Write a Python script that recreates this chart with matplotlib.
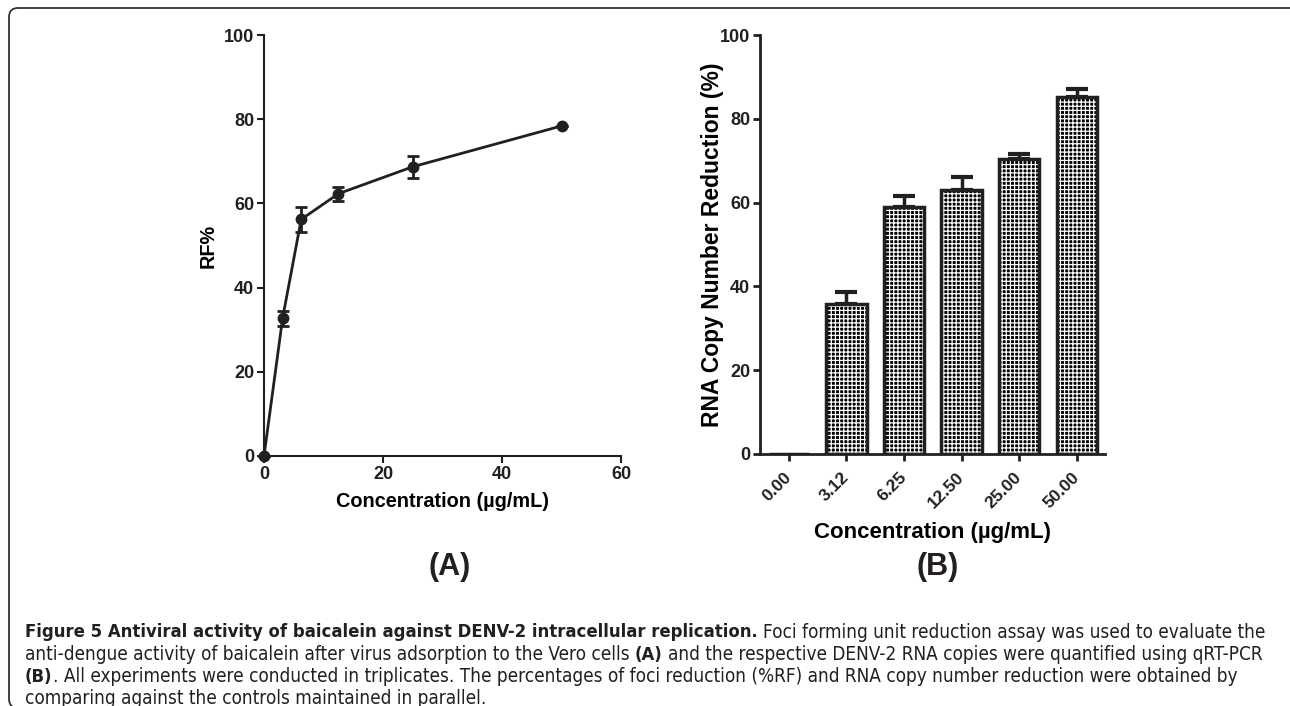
import numpy as np
import matplotlib.pyplot as plt
from matplotlib.patches import FancyBboxPatch
from matplotlib.transforms import IdentityTransform

# data
conc_a = [0, 3.125, 6.25, 12.5, 25, 50]
rf = [0, 32.7, 56.2, 62.3, 68.7, 78.4]
rf_err = [0, 1.8, 3.0, 1.7, 2.6, 0]

conc_labels = ['0.00', '3.12', '6.25', '12.50', '25.00', '50.00']
rna = [0, 35.9, 58.9, 63.0, 70.3, 85.1]
rna_err = [0, 2.7, 2.7, 3.1, 1.2, 2.1]

ink = '#231f20'
plt.rcParams['font.family'] = ['Liberation Sans', 'DejaVu Sans']
plt.rcParams['font.weight'] = 'bold'
plt.rcParams['text.color'] = ink
plt.rcParams['hatch.linewidth'] = 0.9

W, H = 1290, 706
fig = plt.figure(figsize=(W / 100, H / 100), dpi=100)

# frame round the whole figure
frame = FancyBboxPatch((9, -2), 1300, 700, boxstyle='round,pad=0,rounding_size=9',
                       transform=IdentityTransform(), fill=False, ec='#333333', lw=1.3)
fig.patches.append(frame)

# ---- panel A: line plot
a = fig.add_axes([264 / W, 1 - 456 / H, (621 - 264) / W, (456 - 35) / H])
a.errorbar(conc_a, rf, yerr=rf_err, color=ink, lw=2, marker='o', ms=7.5,
           capsize=4, capthick=2, elinewidth=2, clip_on=False, zorder=3)
a.set_xlim(0, 60)
a.set_ylim(0, 100)
a.set_xticks([0, 20, 40, 60])
a.set_yticks([0, 20, 40, 60, 80, 100])
a.spines[['top', 'right']].set_visible(False)
for s in ['left', 'bottom']:
    a.spines[s].set_linewidth(1.5)
    a.spines[s].set_color(ink)
a.tick_params(direction='out', length=5, width=1.5, colors=ink, labelsize=13, pad=2)
a.set_xlabel('Concentration (µg/mL)', fontsize=14.3, fontweight='bold')
a.xaxis.set_label_coords(0.5, -0.085)
a.set_ylabel('RF%', fontsize=14.3, fontweight='bold')
a.yaxis.set_label_coords(-0.157, 0.5)
a.yaxis.label.set_va('center')

# ---- panel B: bar chart
b = fig.add_axes([760 / W, 1 - 454 / H, 345 / W, (454 - 35) / H])
xpos = np.arange(len(conc_labels))
b.errorbar(xpos[1:], rna[1:], yerr=[np.zeros(5), rna_err[1:]], fmt='none',
           ecolor=ink, elinewidth=2.5, capsize=8, capthick=3, zorder=1)
b.bar(xpos, rna, width=0.7, color='black', edgecolor='white', lw=0,
      hatch='++++', zorder=2)
b.bar(xpos, rna, width=0.7, fill=False, edgecolor=ink, lw=2.5, zorder=3)
b.set_xlim(-0.5, 5.49)
b.set_ylim(0, 100)
b.set_xticks(xpos)
b.set_xticklabels(conc_labels, rotation=45, ha='right', va='center',
                  rotation_mode='anchor')
b.set_yticks([0, 20, 40, 60, 80, 100])
b.spines[['top', 'right']].set_visible(False)
for s in ['left', 'bottom']:
    b.spines[s].set_linewidth(2)
    b.spines[s].set_color(ink)
b.tick_params(direction='out', length=5, width=2, colors=ink, labelsize=13, pad=2)
b.tick_params(axis='x', labelsize=12.5, pad=10)
b.set_xlabel('Concentration (µg/mL)', fontsize=16, fontweight='bold')
b.xaxis.set_label_coords(0.5, -0.163)
b.set_ylabel('RNA Copy Number Reduction (%)', fontsize=16.5, fontweight='bold')
b.yaxis.set_label_coords(-0.137, 0.5)
b.yaxis.label.set_va('center')

fig.text(450 / W, 1 - 567 / H, '(A)', fontsize=22, fontweight='bold', ha='center', va='center')
fig.text(938 / W, 1 - 567 / H, '(B)', fontsize=22, fontweight='bold', ha='center', va='center')

# ---- caption, drawn piece by piece so bold and normal can share a line
cap_font = ['DejaVu Sans']
renderer = fig.canvas.get_renderer()

caption = [
    [('Figure 5 Antiviral activity of baicalein against DENV-2 intracellular replication.', 'bold', False),
     ('Foci forming unit reduction assay was used to evaluate the', 'normal', True)],
    [('anti-dengue activity of baicalein after virus adsorption to the Vero cells', 'normal', False),
     ('(A)', 'bold', True),
     ('and the respective DENV-2 RNA copies were quantified using qRT-PCR', 'normal', True)],
    [('(B)', 'bold', False),
     ('. All experiments were conducted in triplicates. The percentages of foci reduction (%RF) and RNA copy number reduction were obtained by', 'normal', False)],
    [('comparing against the controls maintained in parallel.', 'normal', False)],
]
line_y = [632, 655, 677, 698]


def text_width(s, size, wt):
    t = fig.text(0, 0, s, family=cap_font, fontsize=size, fontweight=wt, fontstretch='condensed')
    w = t.get_window_extent(renderer).width
    t.remove()
    return w


# normal text sized so line 3 spans ~1213 px, bold sized so line 1 spans ~1237 px
probe = 12.0
w3 = text_width(caption[2][1][0], probe, 'normal')
size_n = probe * (1213 - text_width('(B)', probe, 'bold')) / w3
space = text_width('x x', size_n, 'normal') - text_width('xx', size_n, 'normal')
rest1 = 1237 - space - text_width(caption[0][1][0], size_n, 'normal')
size_b = probe * rest1 / text_width(caption[0][0][0], probe, 'bold')
sizes = {'normal': size_n, 'bold': size_b}

for segs, yy in zip(caption, line_y):
    x = 25
    for txt, wt, gap in segs:
        if gap:
            x += space
        t = fig.text(x / W, 1 - yy / H, txt, family=cap_font, fontsize=sizes[wt],
                     fontweight=wt, fontstretch='condensed', color=ink,
                     va='center', ha='left')
        x += t.get_window_extent(renderer).width

plt.savefig('out.png', dpi=100)
